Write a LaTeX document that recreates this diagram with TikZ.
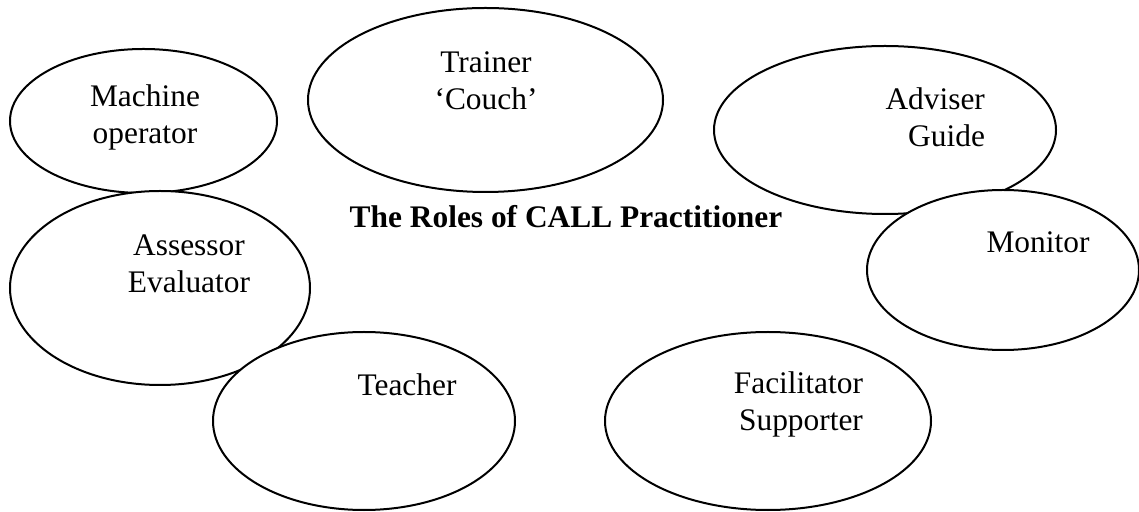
\documentclass[tikz,border=0pt]{standalone}
\usepackage{fontspec}
\setmainfont{Liberation Serif}
\usepackage{tikz}
\usetikzlibrary{shapes.geometric}

\begin{document}
\begin{tikzpicture}[x=0.5pt,y=-0.5pt,
  role/.style={ellipse,draw,fill=white,line width=1pt,inner sep=0pt},
  txt/.style={align=center,font=\fontsize{15.7}{18.5}\selectfont}]
\useasboundingbox (0,0) rectangle (1139,512);
\node[role,minimum width=133.5pt,minimum height=72pt] (mach) at (143.5,121) {};
\node[role,minimum width=177.5pt,minimum height=92pt] (train) at (485.5,100) {};
\node[role,minimum width=171pt,minimum height=84pt] (advis) at (885,130) {};
\node[role,minimum width=150pt,minimum height=97pt] (asses) at (160,288) {};
\node[role,minimum width=136pt,minimum height=80pt] (monit) at (1003,270) {};
\node[role,minimum width=151pt,minimum height=89pt] (teach) at (364,421) {};
\node[role,minimum width=163pt,minimum height=89pt] (facil) at (768,421) {};

\node[txt] (machtxt) at (145,117) {Machine\\operator};
\node[txt] (traintxt) at (486,81) {Trainer\\`Couch'};
\node[txt,align=right,anchor=east] (advistxt) at (992,117) {Adviser\\Guide};
\node[txt] (monittxt) at (1038,242) {Monitor};
\node[txt] (assestxt) at (189,264) {Assessor\\Evaluator};
\node[txt] (teachtxt) at (407,385) {Teacher};
\node[txt,align=right,anchor=east] (faciltxt) at (870,404) {Facilitator\\Supporter};
\node[txt,font=\fontsize{15.7}{18.5}\selectfont\bfseries] (title) at (566,217) {The Roles of CALL Practitioner};
\end{tikzpicture}
\end{document}
